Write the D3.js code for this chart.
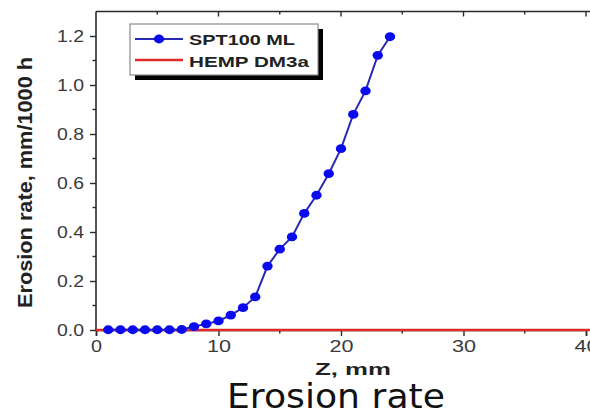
<!DOCTYPE html>
<html>
<head>
<meta charset="utf-8">
<script src="https://cdn.jsdelivr.net/npm/d3@7"></script>
<style>
  html, body { margin: 0; padding: 0; background: #fff; }
  svg { display: block; }
</style>
</head>
<body>
<svg id="chart" width="590" height="415"></svg>
<script>
// ---- data ----
const sptZ = [1, 2, 3, 4, 5, 6, 7, 8, 9, 10, 11, 12, 13, 14, 15, 16, 17, 18, 19, 20, 21, 22, 23, 24];
const sptRate = [0.001, 0.001, 0.001, 0.001, 0.001, 0.001, 0.002, 0.014, 0.025, 0.037, 0.061, 0.091, 0.135, 0.261, 0.33, 0.38, 0.476, 0.55, 0.638, 0.74, 0.88, 0.976, 1.121, 1.197];
const hempZ = [0, 42];
const hempRate = [0, 0];
const xTicks = [0, 10, 20, 30, 40];
const yTicks = [0.0, 0.2, 0.4, 0.6, 0.8, 1.0, 1.2];
const seriesNames = ["SPT100 ML", "HEMP DM3a"];

const svg = d3.select("#chart");
const x = d3.scaleLinear().domain([0, 40]).range([96, 586]);
const y = d3.scaleLinear().domain([0, 1.2]).range([330, 36]);
const xMax = 42, yMax = 1.3;

const axisColor = "#2a2a2a";
const labelColor = "#3a3a3a";
const sans = "'Liberation Sans', Arial, sans-serif";

// frame: left and top lines
svg.append("line").attr("x1", x(0)).attr("x2", x(0)).attr("y1", y(0)).attr("y2", y(yMax))
  .attr("stroke", axisColor).attr("stroke-width", 1.6);
svg.append("line").attr("x1", x(0)).attr("x2", x(xMax)).attr("y1", y(yMax)).attr("y2", y(yMax))
  .attr("stroke", axisColor).attr("stroke-width", 1.6);

// x axis bottom
const xAxisG = svg.append("g").attr("transform", `translate(0,${y(0)})`)
  .call(d3.axisBottom(x).tickValues(xTicks).tickFormat(d3.format("d")).tickSize(6).tickPadding(5));
xAxisG.select(".domain").attr("stroke", axisColor).attr("stroke-width", 1.6);
xAxisG.selectAll(".tick line").attr("stroke", axisColor).attr("stroke-width", 1.4);
xAxisG.selectAll(".tick text").attr("font-size", 16).attr("fill", labelColor)
  .style("font-family", sans)
  .attr("textLength", d => d === 0 ? 11 : 24).attr("lengthAdjust", "spacingAndGlyphs")
  .attr("y", 11);
// x minor ticks
svg.append("g").selectAll("line").data([5, 15, 25, 35]).join("line")
  .attr("x1", d => x(d)).attr("x2", d => x(d)).attr("y1", y(0)).attr("y2", y(0) + 3.5)
  .attr("stroke", axisColor).attr("stroke-width", 1.4);
// top inward ticks
svg.append("g").selectAll("line").data([5, 10, 15, 20, 25, 30, 35, 40]).join("line")
  .attr("x1", d => x(d)).attr("x2", d => x(d)).attr("y1", y(yMax)).attr("y2", d => y(yMax) + (d % 10 === 0 ? 5 : 3))
  .attr("stroke", axisColor).attr("stroke-width", 1.4);

// y axis
const yAxisG = svg.append("g").attr("transform", `translate(${x(0)},0)`)
  .call(d3.axisLeft(y).tickValues(yTicks).tickFormat(d3.format(".1f")).tickSize(6).tickPadding(6));
yAxisG.select(".domain").remove();
yAxisG.selectAll(".tick line").attr("stroke", axisColor).attr("stroke-width", 1.4);
yAxisG.selectAll(".tick text").attr("font-size", 16).attr("fill", labelColor)
  .style("font-family", sans)
  .attr("textLength", 27).attr("lengthAdjust", "spacingAndGlyphs");
svg.append("g").selectAll("line").data([0.1, 0.3, 0.5, 0.7, 0.9, 1.1]).join("line")
  .attr("x1", x(0) - 3.5).attr("x2", x(0)).attr("y1", d => y(d)).attr("y2", d => y(d))
  .attr("stroke", axisColor).attr("stroke-width", 1.4);

// HEMP line
const line = d3.line().x(d => x(d[0])).y(d => y(d[1]));
svg.append("path").datum(hempZ.map((z, i) => [z, hempRate[i]]))
  .attr("d", line).attr("fill", "none").attr("stroke", "#e02a2a").attr("stroke-width", 2.4);

// SPT100 series
const sptData = sptZ.map((z, i) => [z, sptRate[i]]);
svg.append("path").datum(sptData).attr("d", line)
  .attr("fill", "none").attr("stroke", "#2a2ab0").attr("stroke-width", 2);
svg.append("g").selectAll("ellipse").data(sptData).join("ellipse")
  .attr("cx", d => x(d[0])).attr("cy", d => y(d[1])).attr("rx", 5.2).attr("ry", 4.4)
  .attr("fill", "#0a0af0");

// axis titles
svg.append("text").attr("x", 353).attr("y", 375).attr("text-anchor", "middle")
  .style("font-family", sans)
  .attr("font-size", 16).attr("font-weight", "bold").attr("fill", "#222")
  .attr("textLength", 76).attr("lengthAdjust", "spacingAndGlyphs").text("Z, mm");
svg.append("text").attr("transform", "translate(32,182.5) rotate(-90)").attr("text-anchor", "middle")
  .style("font-family", sans)
  .attr("font-size", 20).attr("font-weight", "bold").attr("fill", "#222")
  .attr("textLength", 251).attr("lengthAdjust", "spacingAndGlyphs").text("Erosion rate, mm/1000 h");

// caption
svg.append("text").attr("x", 227).attr("y", 408)
  .style("font-family", "'DejaVu Sans', Verdana, sans-serif")
  .attr("font-size", 33).attr("fill", "#111")
  .attr("textLength", 218).attr("lengthAdjust", "spacingAndGlyphs").text("Erosion rate");

// legend
const lg = svg.append("g");
lg.append("rect").attr("x", 135).attr("y", 29).attr("width", 188).attr("height", 51).attr("fill", "#000");
lg.append("rect").attr("x", 130).attr("y", 24).attr("width", 188).attr("height", 51)
  .attr("fill", "#fff").attr("stroke", "#8a8a8a").attr("stroke-width", 1.2);
lg.append("line").attr("x1", 135).attr("x2", 183).attr("y1", 39).attr("y2", 39)
  .attr("stroke", "#2a2ab0").attr("stroke-width", 2);
lg.append("ellipse").attr("cx", 159).attr("cy", 39).attr("rx", 5.2).attr("ry", 4.4).attr("fill", "#0a0af0");
lg.append("line").attr("x1", 135).attr("x2", 183).attr("y1", 60).attr("y2", 60)
  .attr("stroke", "#e02a2a").attr("stroke-width", 2.6);
lg.append("text").attr("x", 189).attr("y", 45).attr("font-size", 14).attr("font-weight", "bold")
  .style("font-family", sans)
  .attr("fill", "#222").attr("textLength", 106).attr("lengthAdjust", "spacingAndGlyphs").text(seriesNames[0]);
lg.append("text").attr("x", 189).attr("y", 66.5).attr("font-size", 14).attr("font-weight", "bold")
  .style("font-family", sans)
  .attr("fill", "#222").attr("textLength", 120).attr("lengthAdjust", "spacingAndGlyphs").text(seriesNames[1]);
</script>
</body>
</html>
